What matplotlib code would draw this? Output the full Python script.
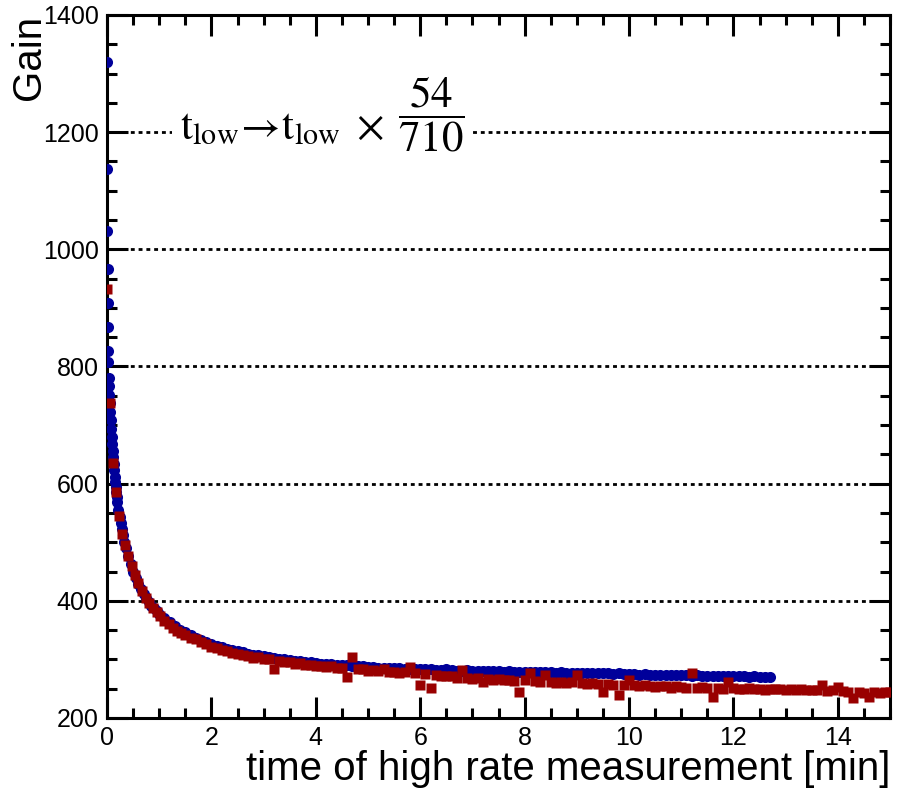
import matplotlib
matplotlib.use('Agg')
import matplotlib.pyplot as plt
from matplotlib.ticker import MultipleLocator

plt.rcParams['font.family'] = ['Liberation Sans', 'DejaVu Sans']
plt.rcParams['mathtext.fontset'] = 'stix'

# ---------------- data ----------------
t_blue = [0.0, 0.004, 0.008, 0.012, 0.016, 0.02, 0.024, 0.028, 0.032, 0.036,
          0.04, 0.05, 0.06, 0.07, 0.08, 0.09, 0.10, 0.11, 0.12, 0.13,
          0.14, 0.15, 0.16, 0.17, 0.18, 0.19, 0.20, 0.22, 0.24, 0.26,
          0.28, 0.30, 0.33, 0.36, 0.40, 0.45, 0.50, 0.55, 0.60, 0.65,
          0.70, 0.75, 0.80, 0.85, 0.90, 0.95,
          1.0, 1.1, 1.2, 1.3, 1.4, 1.5, 1.6, 1.7, 1.8, 1.9,
          2.0, 2.1, 2.2, 2.3, 2.4, 2.5, 2.6, 2.7, 2.8, 2.9,
          3.0, 3.1, 3.2, 3.3, 3.4, 3.5, 3.6, 3.7, 3.8, 3.9,
          4.0, 4.1, 4.2, 4.3, 4.4, 4.5, 4.6, 4.7, 4.8, 4.9,
          5.0, 5.1, 5.2, 5.3, 5.4, 5.5, 5.6, 5.7, 5.8, 5.9,
          6.0, 6.1, 6.2, 6.3, 6.4, 6.5, 6.6, 6.7, 6.8, 6.9,
          7.0, 7.1, 7.2, 7.3, 7.4, 7.5, 7.6, 7.7, 7.8, 7.9,
          8.0, 8.1, 8.2, 8.3, 8.4, 8.5, 8.6, 8.7, 8.8, 8.9,
          9.0, 9.1, 9.2, 9.3, 9.4, 9.5, 9.6, 9.7, 9.8, 9.9,
          10.0, 10.1, 10.2, 10.3, 10.4, 10.5, 10.6, 10.7, 10.8, 10.9,
          11.0, 11.1, 11.2, 11.3, 11.4, 11.5, 11.6, 11.7, 11.8, 11.9,
          12.0, 12.1, 12.2, 12.3, 12.4, 12.5, 12.6, 12.7]
gain_blue = [1320, 1137, 1031, 966, 909, 867, 827, 808, 781, 766,
             752, 738, 722, 708, 694, 680, 668, 656, 645, 634,
             623, 612, 603, 594, 585, 577, 569, 555, 543, 532,
             522, 513, 501, 490, 477, 463, 450, 439, 429, 420,
             412, 405, 398, 392, 387, 382,
             377, 370, 363, 357, 351, 346, 342, 337, 333, 330,
             326, 323, 321, 318, 316, 314, 312, 310, 308, 307,
             305, 304, 302, 301, 300, 299, 298, 297, 296, 295,
             294, 293, 293, 292, 291, 290, 290, 289, 288, 288,
             287, 287, 286, 286, 285, 286, 285, 284, 284, 283,
             284, 283, 283, 282, 282, 283, 282, 281, 281, 282,
             281, 281, 280, 280, 281, 280, 279, 280, 279, 279,
             279, 279, 278, 279, 278, 278, 277, 278, 277, 277,
             277, 277, 276, 277, 276, 276, 276, 275, 276, 275,
             275, 275, 274, 275, 274, 274, 274, 273, 274, 273,
             273, 273, 272, 273, 272, 272, 272, 271, 272, 271,
             271, 271, 271, 270, 271, 270, 270, 270]

t_red = [0.0, 0.06, 0.12, 0.18, 0.23, 0.29, 0.35, 0.41, 0.47, 0.53,
         0.60, 0.67, 0.74, 0.81, 0.88, 0.95, 1.02, 1.10, 1.18, 1.26,
         1.34, 1.42, 1.50,
         1.6, 1.7, 1.8, 1.9, 2.0, 2.1, 2.2, 2.3, 2.4, 2.5,
         2.6, 2.7, 2.8, 2.9, 3.0, 3.1, 3.2, 3.3, 3.4, 3.5,
         3.6, 3.7, 3.8, 3.9, 4.0, 4.1, 4.2, 4.3, 4.4, 4.5,
         4.6, 4.7, 4.8, 4.9, 5.0, 5.1, 5.2, 5.3, 5.4, 5.5,
         5.6, 5.7, 5.8, 5.9, 6.0, 6.1, 6.2, 6.3, 6.4, 6.5,
         6.6, 6.7, 6.8, 6.9, 7.0, 7.1, 7.2, 7.3, 7.4, 7.5,
         7.6, 7.7, 7.8, 7.9, 8.0, 8.1, 8.2, 8.3, 8.4, 8.5,
         8.6, 8.7, 8.8, 8.9, 9.0, 9.1, 9.2, 9.3, 9.4, 9.5,
         9.6, 9.7, 9.8, 9.9, 10.0, 10.1, 10.2, 10.3, 10.4, 10.5,
         10.6, 10.7, 10.8, 10.9, 11.0, 11.1, 11.2, 11.3, 11.4, 11.5,
         11.6, 11.7, 11.8, 11.9, 12.0, 12.1, 12.2, 12.3, 12.4, 12.5,
         12.6, 12.7, 12.8, 12.9, 13.0, 13.1, 13.2, 13.3, 13.4, 13.5,
         13.6, 13.7, 13.8, 13.9, 14.0, 14.1, 14.2, 14.3, 14.4, 14.5,
         14.6, 14.7, 14.8, 14.9, 15.0]
gain_red = [933, 738, 636, 586, 544, 514, 496, 477, 459, 444,
            430, 417, 405, 396, 388, 381, 374, 366, 360, 354,
            349, 345, 341,
            336, 334, 329, 327, 321, 320, 316, 315, 311, 310,
            307, 306, 303, 304, 300, 300, 284, 297, 295, 296,
            292, 294, 290, 291, 289, 289, 287, 288, 285, 286,
            270, 304, 284, 284, 281, 282, 280, 283, 279, 279,
            277, 279, 287, 276, 256, 275, 251, 273, 272, 271,
            271, 269, 282, 269, 267, 268, 262, 267, 265, 266,
            264, 265, 263, 245, 264, 277, 263, 261, 273, 262,
            260, 262, 259, 261, 273, 260, 258, 260, 258, 245,
            258, 257, 239, 257, 264, 256, 254, 256, 255, 253,
            254, 255, 252, 254, 253, 252, 276, 252, 253, 251,
            236, 252, 250, 262, 252, 250, 250, 251, 249, 250,
            248, 250, 249, 250, 247, 249, 248, 249, 247, 247,
            248, 256, 246, 247, 253, 246, 244, 234, 245, 243,
            236, 244, 242, 244, 244]

x_ticks = [0, 2, 4, 6, 8, 10, 12, 14]
y_ticks = [200, 400, 600, 800, 1000, 1200, 1400]
grid_levels = [400, 600, 800, 1000, 1200]
x_label = 'time of high rate measurement [min]'
y_label = 'Gain'
annotation_left = r'$\mathrm{t}_{\mathrm{low}}\!\rightarrow\!\mathrm{t}_{\mathrm{low}}\;\times$'
annotation_frac = r'$\dfrac{54}{710}$'

# ---------------- figure ----------------
fig = plt.figure(figsize=(9, 7.93), dpi=100)
ax = fig.add_axes([0.1189, 0.0946, 0.870, 0.8865])

ax.set_xlim(0, 15)
ax.set_ylim(200, 1400)

ax.hlines(grid_levels, 0, 15, colors='black', linestyles=(0, (1.4, 1.4)),
          linewidth=2.0, zorder=1)

ax.plot(t_blue, gain_blue, 'o', color='#00009a', ms=8.0, mec='none', zorder=3)
ax.plot(t_red, gain_red, 's', color='#990000', ms=7.6, mec='none', zorder=4)

ax.set_xticks(x_ticks)
ax.set_yticks(y_ticks)
ax.xaxis.set_minor_locator(MultipleLocator(0.5))
ax.yaxis.set_minor_locator(MultipleLocator(50))
ax.tick_params(which='both', direction='in', top=True, right=True, width=2.2,
               labelsize=18, pad=6)
ax.tick_params(which='major', length=15)
ax.tick_params(which='minor', length=7.5)
for s in ax.spines.values():
    s.set_linewidth(2.2)

ax.set_xlabel(x_label, fontsize=29, loc='right', labelpad=0)
ax.set_ylabel(y_label, fontsize=29, loc='top', labelpad=-4)

ax.text(1.40, 1187, annotation_left, fontsize=31, ha='left', va='baseline',
        zorder=5, bbox=dict(facecolor='white', edgecolor='none', pad=6))
ax.text(5.58, 1230, annotation_frac, fontsize=31, ha='left', va='center',
        zorder=5, bbox=dict(facecolor='white', edgecolor='none', pad=6))

fig.savefig('out.png', dpi=100)
